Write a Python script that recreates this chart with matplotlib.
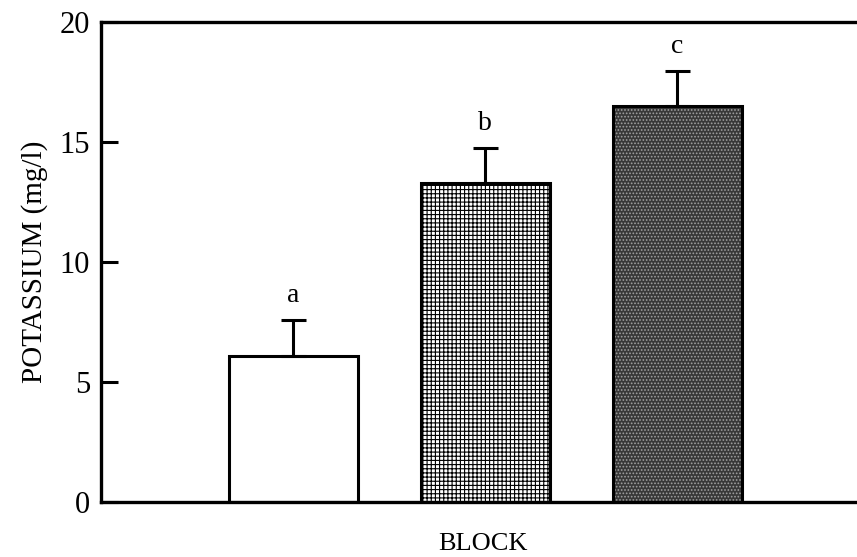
import numpy as np
import matplotlib
matplotlib.use("Agg")
import matplotlib.pyplot as plt

# data
blocks = [1, 2, 3]
potassium = [6.1, 13.3, 16.5]
errors = [1.5, 1.45, 1.45]
letters = ['a', 'b', 'c']

plt.rcParams['font.family'] = ['Liberation Serif', 'DejaVu Serif']
plt.rcParams['hatch.linewidth'] = 0.8

fig = plt.figure(figsize=(8.57, 5.57), dpi=100)
ax = fig.add_axes([0.118, 0.0987, 0.89, 0.8618])

width = 0.67
fills = ['white', 'white', '#383838']
hatches = [None, '++++', '.....']
hcolors = ['black', 'black', '#a0a0a0']

for x, h, fc, ht, hc in zip(blocks, potassium, fills, hatches, hcolors):
    # textured fill first, then the black outline on top
    ax.bar(x, h, width=width, color=fc, edgecolor=hc, hatch=ht, linewidth=0)
    ax.bar(x, h, width=width, color='none', edgecolor='black', linewidth=2.2)

ax.errorbar(blocks, potassium, yerr=[np.zeros(3), errors], fmt='none',
            ecolor='black', elinewidth=2.2, capsize=9, capthick=2.2)

for x, h, e, t in zip(blocks, potassium, errors, letters):
    ax.text(x, h + e + 0.5, t, ha='center', va='bottom', fontsize=20)

ax.set_xlim(0, 3.97)
ax.set_ylim(0, 20)
ax.set_yticks([0, 5, 10, 15, 20])
ax.set_xticks([])
ax.tick_params(axis='y', direction='in', length=12, width=2.2, labelsize=22, pad=8)
ax.spines['right'].set_visible(False)
for s in ['left', 'bottom', 'top']:
    ax.spines[s].set_linewidth(2.4)

ax.set_ylabel('POTASSIUM (mg/l)', fontsize=21, labelpad=8)
ax.set_xlabel('BLOCK', fontsize=19, labelpad=22)

fig.savefig('out.png', dpi=100)
